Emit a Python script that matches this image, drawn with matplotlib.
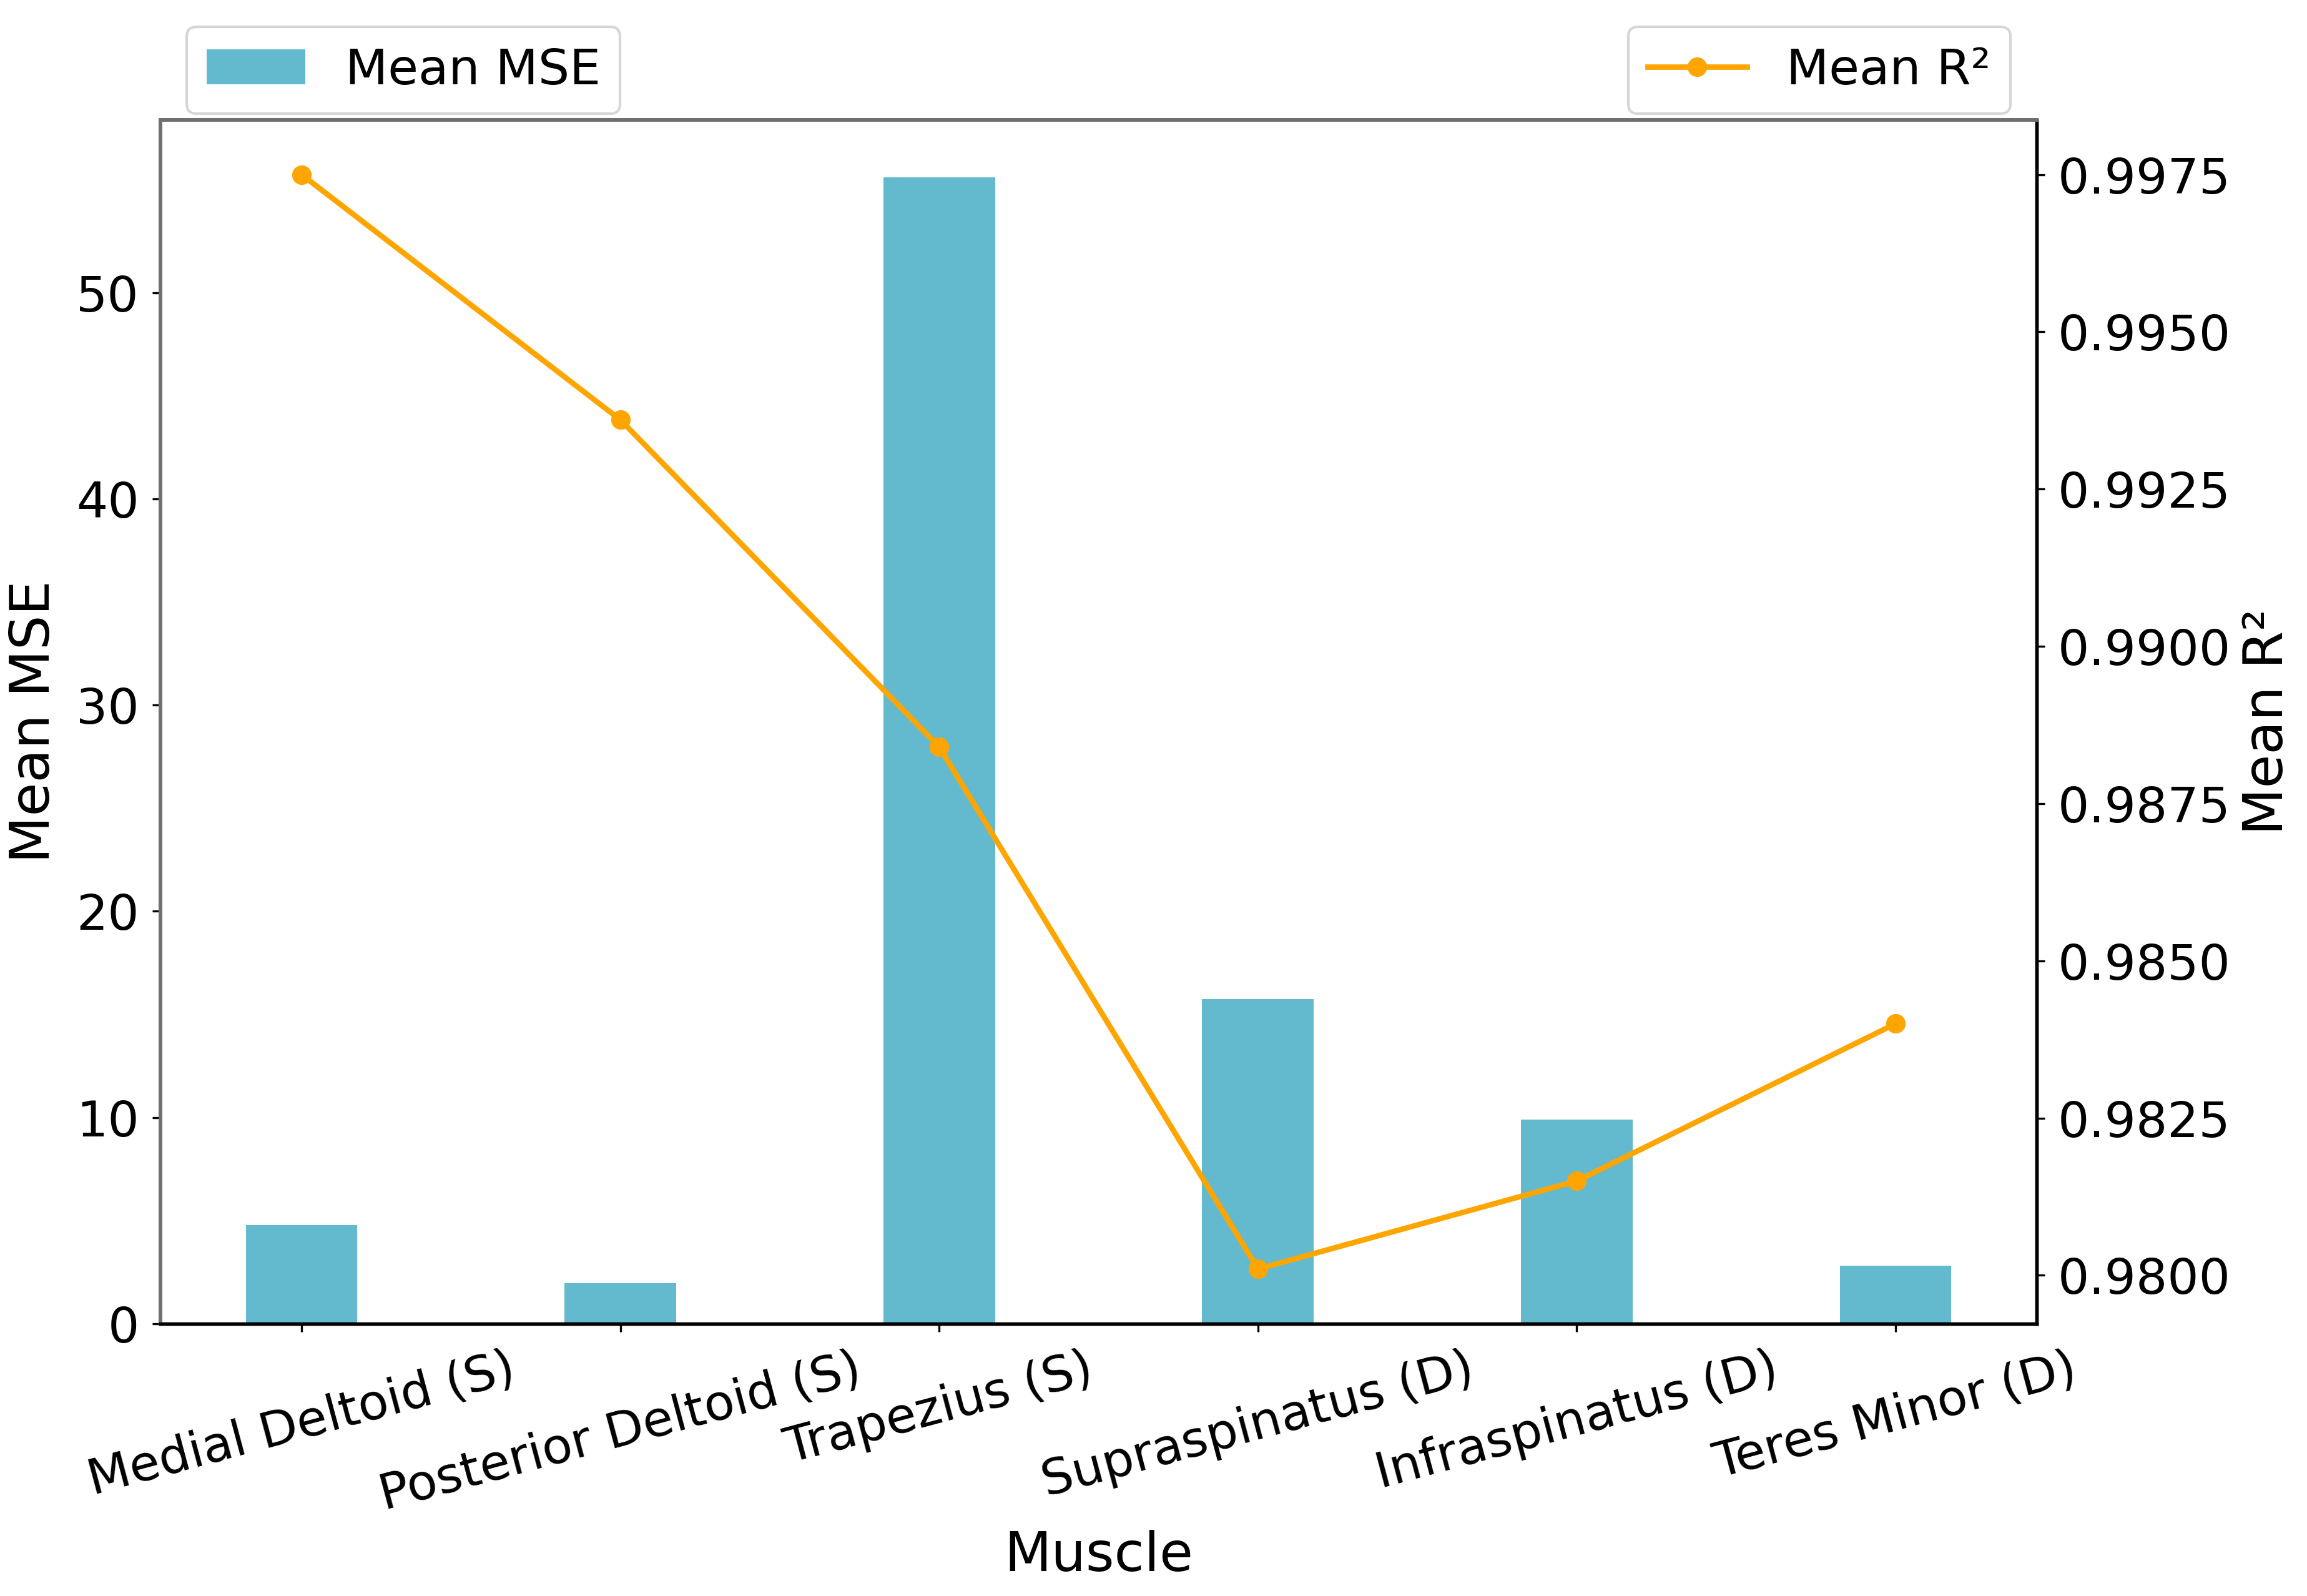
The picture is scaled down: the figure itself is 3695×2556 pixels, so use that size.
# bar + line chart: mean MSE / mean R2 per muscle
import numpy as np
import matplotlib.pyplot as plt

muscles = ['Medial Deltoid (S)', 'Posterior Deltoid (S)', 'Trapezius (S)',
           'Supraspinatus (D)', 'Infraspinatus (D)', 'Teres Minor (D)']
mean_mse = [4.78, 1.96, 55.6, 15.75, 9.9, 2.8]
mean_r2 = [0.9975, 0.9936, 0.9884, 0.9801, 0.9815, 0.9840]

x = np.arange(len(muscles))

fig, ax1 = plt.subplots(figsize=(3695 / 300, 2556 / 300), dpi=300)
fig.subplots_adjust(left=0.0696, right=0.8828, top=0.9249, bottom=0.1706)

ax1.bar(x, mean_mse, width=0.35, color='#63bacf', label='Mean MSE')
ax1.set_xlabel('Muscle', fontsize=21)
ax1.set_ylabel('Mean MSE', fontsize=21, labelpad=6)
ax1.set_xticks(x)
ax1.set_xticklabels(muscles, rotation=15)
ax1.tick_params(labelsize=19, length=3.2, width=0.8, pad=5)

ax2 = ax1.twinx()
ax2.plot(x, mean_r2, color='orange', marker='o', linewidth=2.1, markersize=6.5, label='Mean R²')
ax2.set_ylabel('Mean R²', fontsize=21, labelpad=4)
ax2.tick_params(labelsize=19, length=3.2, width=0.8, pad=5)

# spines: left/top look grey, bottom/right black in the original
for ax in (ax1, ax2):
    for side in ['left', 'top']:
        ax.spines[side].set_color('#707070')
        ax.spines[side].set_linewidth(1.4)
    for side in ['right', 'bottom']:
        ax.spines[side].set_color('black')
        ax.spines[side].set_linewidth(1.3)

ax1.legend(loc='lower left', bbox_to_anchor=(0.014, 1.005), borderaxespad=0, fontsize=19)
ax2.legend(loc='lower right', bbox_to_anchor=(0.986, 1.005), borderaxespad=0, fontsize=19)

fig.savefig('out.png', dpi=300)
